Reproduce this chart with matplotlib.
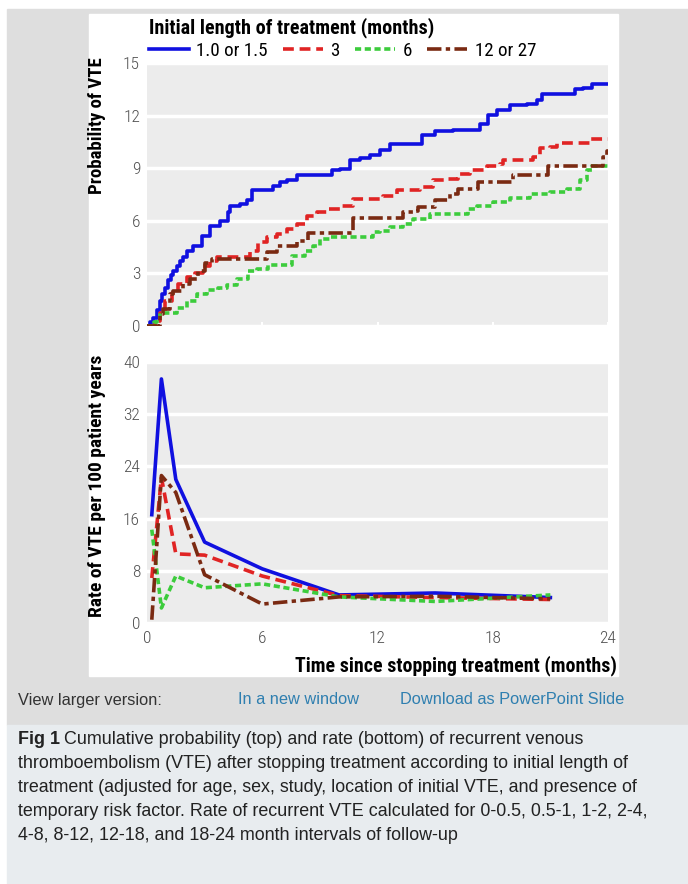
import matplotlib
matplotlib.use('Agg')
import matplotlib.pyplot as plt
from matplotlib.patches import Rectangle

W, H = 688, 884

# cumulative probability (step curves), time in months
blue_t = [0, 0.18, 0.33, 0.5, 0.68, 0.8, 0.94, 1.1, 1.25, 1.37, 1.55, 1.7, 1.89, 2.06, 2.41, 2.84, 3.28, 3.80, 4.23, 4.32, 4.84,
          5.19, 5.45, 6.58, 6.92, 7.27, 7.79, 9.61, 10.04, 10.57, 11.09, 11.61, 12.13, 12.65, 14.30, 15.0, 15.95, 17.33,
          17.77, 18.2, 18.89, 19.76, 20.28, 20.54, 22.28, 22.71, 23.15, 24.0]
blue_p = [0, 0.2, 0.48, 0.9, 1.43, 1.8, 2.19, 2.6, 2.9, 3.15, 3.4, 3.7, 3.91, 4.29, 4.58, 5.15, 5.72, 6.01, 6.49, 6.87, 6.96,
          7.16, 7.77, 8.01, 8.21, 8.30, 8.59, 8.87, 8.97, 9.44, 9.58, 9.75, 10.04, 10.4, 10.88, 11.12, 11.2, 11.54,
          12.02, 12.31, 12.59, 12.69, 12.88, 13.26, 13.49, 13.55, 13.79, 13.79]

red_t = [0, 0.42, 0.68, 0.94, 1.28, 1.63, 2.06, 2.50, 2.93, 3.28, 3.62, 5.36, 5.80, 6.23, 6.75, 7.27, 7.79, 8.31, 8.83,
         9.35, 10.04, 10.74, 12.30, 13.0, 14.2, 14.91, 15.6, 16.2, 16.81, 17.68, 18.37, 18.55, 20.11, 20.46, 20.98,
         21.33, 23.06, 24.0]
red_p = [0, 0.29, 0.76, 1.43, 1.91, 2.39, 2.77, 3.05, 3.43, 3.72, 3.95, 4.29, 4.77, 5.06, 5.25, 5.53, 5.82, 6.30, 6.49,
         6.68, 6.87, 7.25, 7.44, 7.73, 7.92, 8.30, 8.40, 8.68, 8.87, 9.10, 9.25, 9.44, 9.64, 10.17, 10.21,
         10.44, 10.69, 10.69]

green_t = [0, 0.35, 0.5, 0.68, 1.54, 2.06, 2.59, 3.11, 3.71, 4.15, 4.67, 5.28, 5.71, 6.32, 7.53, 8.23, 8.66, 9.01, 9.53,
           11.78, 12.13, 12.65, 13.35, 13.87, 14.74, 16.73, 17.16, 18.03, 18.89, 19.93, 20.98, 21.85, 22.54, 22.89,
           23.15, 24.0]
green_p = [0, 0.2, 0.48, 0.76, 1.05, 1.43, 1.81, 2.04, 2.19, 2.35, 2.67, 3.15, 3.24, 3.49, 4.01, 4.29, 4.58, 4.96, 5.06,
           5.34, 5.44, 5.67, 5.82, 6.10, 6.39, 6.68, 6.87, 7.06, 7.31, 7.54, 7.63, 7.82, 8.30, 8.87,
           9.1, 9.1]

brown_t = [0, 0.59, 0.68, 0.85, 1.20, 1.37, 1.89, 2.24, 2.67, 3.02, 3.37, 6.23, 6.75, 7.79, 8.40, 10.74, 13.35, 13.87,
           14.13, 15.0, 15.78, 16.21, 17.25, 19.07, 20.89, 23.75, 23.96, 24.0]
brown_p = [0, 0, 0.67, 0.95, 1.81, 2.0, 2.39, 2.67, 3.15, 3.62, 3.81, 4.2, 4.58, 4.86, 5.28, 6.14, 6.49, 6.58,
           6.81, 7.16, 7.54, 7.82, 8.2, 8.59, 9.10, 9.64, 9.98, 9.98]

# rate per 100 patient years at interval midpoints
rate_t = [0.25, 0.75, 1.5, 3, 6, 10, 15, 21]
blue_r = [16.6, 37.4, 22.0, 12.4, 8.3, 4.3, 4.6, 3.9]
red_r = [6.9, 22.3, 10.6, 10.4, 7.2, 4.2, 3.9, 3.6]
green_r = [14.3, 2.3, 7.2, 5.4, 6.0, 4.0, 3.3, 4.3]
brown_r = [0.5, 22.6, 20.0, 7.4, 2.9, 4.0, 4.1, 3.7]

labels = ['1.0 or 1.5', '3', '6', '12 or 27']
colors = ['#1010e0', '#e02424', '#3ccc3c', '#7a2a12']
styles = ['-', (0, (3, 1.6)), (0, (1.7, 1.0)), (0, (4, 1.2, 1.2, 1.2))]

cond = ['Roboto Condensed', 'Fira Sans Condensed', 'DejaVu Sans']
web = ['Liberation Sans', 'DejaVu Sans']


def box(x0, y0, x1, y1):
    # pixel box (top-left origin) -> figure fraction rect
    return [x0 / W, 1 - y1 / H, (x1 - x0) / W, (y1 - y0) / H]


fig = plt.figure(figsize=(W / 100, H / 100), dpi=100)
fig.patch.set_facecolor('white')
for (x0, y0, x1, y1, c) in [(7, 9, 688, 725, '#dedede'), (7, 725, 688, 884, '#e8ecef'), (89, 14, 618, 676, 'white')]:
    r = box(x0, y0, x1, y1)
    fig.patches.append(Rectangle((r[0], r[1]), r[2], r[3], transform=fig.transFigure, color=c, zorder=-5))

ax1 = fig.add_axes(box(147, 63, 608, 326))
ax2 = fig.add_axes(box(147, 362, 608, 623))

for ax in (ax1, ax2):
    ax.set_facecolor('#ececec')
    for s in ax.spines.values():
        s.set_visible(False)
    ax.set_axisbelow(True)
    ax.grid(axis='y', color='white', linewidth=2.5)
    ax.set_xlim(0, 24)
    ax.set_xticks([0, 6, 12, 18, 24])
    ax.tick_params(axis='y', length=0, pad=5, labelsize=12.5, labelcolor='#505050')

ax1.set_ylim(0, 15)
ax1.set_yticks([0, 3, 6, 9, 12, 15])
ax1.tick_params(axis='x', direction='in', length=3, color='white', width=1.5, labelbottom=False)
ax2.set_ylim(0, 40)
ax2.set_yticks([0, 8, 16, 24, 32, 40])
ax2.tick_params(axis='x', length=0, pad=6, labelsize=12.5, labelcolor='#505050')
for t in ax1.get_yticklabels() + ax2.get_yticklabels() + ax2.get_xticklabels():
    t.set_family(cond)
    t.set_fontweight('light')

series_t = [blue_t, red_t, green_t, brown_t]
series_p = [blue_p, red_p, green_p, brown_p]
series_r = [blue_r, red_r, green_r, brown_r]
for i in range(4):
    ax1.step(series_t[i], series_p[i], where='post', color=colors[i], linestyle=styles[i], linewidth=2.6, label=labels[i])
    ax2.plot(rate_t, series_r[i], color=colors[i], linestyle=styles[i], linewidth=2.6)

ax1.text(-0.108, 1.02, 'Probability of VTE', transform=ax1.transAxes, rotation=90, ha='center', va='top',
         fontsize=13.5, fontweight='bold', family=cond)
ax2.text(-0.108, 1.03, 'Rate of VTE per 100 patient years', transform=ax2.transAxes, rotation=90, ha='center',
         va='top', fontsize=14, fontweight='bold', family=cond)
fig.text(617 / W, 1 - 666 / H, 'Time since stopping treatment (months)', ha='right', va='center',
         fontsize=14.3, fontweight='bold', family=cond)

leg = ax1.legend(loc='upper left', bbox_to_anchor=(141 / W, 1 - 10 / H),
                 bbox_transform=fig.transFigure, ncol=4, frameon=False, handlelength=2.1, handletextpad=0.4,
                 columnspacing=0.8, title='Initial length of treatment (months)', alignment='left',
                 prop={'family': cond, 'size': 13.7}, title_fontproperties={'family': cond, 'size': 14.5, 'weight': 'bold'},
                 borderaxespad=0, labelspacing=0.2)

fig.text(18 / W, 1 - 700 / H, 'View larger version:', ha='left', va='center', fontsize=11.8, color='#333333', family=web)
fig.text(238 / W, 1 - 700 / H, 'In a new window', ha='left', va='center', fontsize=11.8, color='#2f7fb0', family=web)
fig.text(400 / W, 1 - 700 / H, 'Download as PowerPoint Slide', ha='left', va='center', fontsize=11.8,
         color='#2f7fb0', family=web)

caption = [
    'Cumulative probability (top) and rate (bottom) of recurrent venous',
    'thromboembolism (VTE) after stopping treatment according to initial length of',
    'treatment (adjusted for age, sex, study, location of initial VTE, and presence of',
    'temporary risk factor. Rate of recurrent VTE calculated for 0-0.5, 0.5-1, 1-2, 2-4,',
    '4-8, 8-12, 12-18, and 18-24 month intervals of follow-up',
]
ys = [740, 764, 788, 812, 835]
t0 = fig.text(18 / W, 1 - ys[0] / H, 'Fig 1', ha='left', va='center', fontsize=12.9, fontweight='bold',
              color='#222222', family=web)
fig.canvas.draw()
bb = t0.get_window_extent()
fig.text((bb.x1 + 4) / W, 1 - ys[0] / H, caption[0], ha='left', va='center', fontsize=12.9, color='#222222', family=web)
for line, y in zip(caption[1:], ys[1:]):
    fig.text(18 / W, 1 - y / H, line, ha='left', va='center', fontsize=12.9, color='#222222', family=web)

fig.savefig('out.png', dpi=100)
